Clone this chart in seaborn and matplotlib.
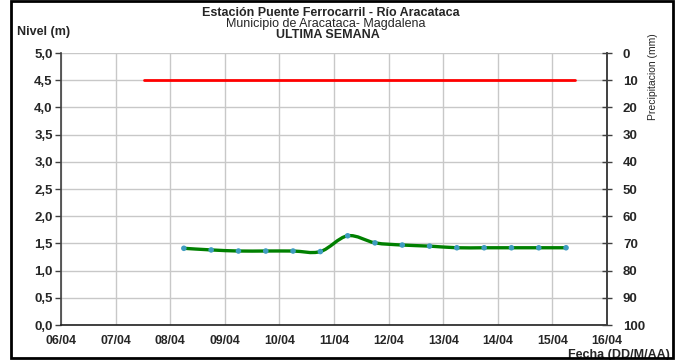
import numpy as np
import pandas as pd
import matplotlib as mpl
mpl.use("Agg")
import matplotlib.pyplot as plt
import matplotlib.dates as mdates
from matplotlib.path import Path
from matplotlib.patches import PathPatch, Rectangle
from matplotlib.ticker import FuncFormatter
import seaborn as sns

# nivel del rio, cada 12 horas
fechas = pd.date_range("2023-04-08 06:00", periods=15, freq="12h")
nivel = [1.41, 1.38, 1.36, 1.36, 1.36, 1.35, 1.64, 1.51, 1.47, 1.45,
         1.42, 1.42, 1.42, 1.42, 1.42]

# linea roja (nivel de referencia)
ref_fechas = pd.to_datetime(["2023-04-07 12:30", "2023-04-15 10:00"])
ref_nivel = [4.5, 4.5]

dias = pd.date_range("2023-04-06", "2023-04-16", freq="D")
nivel_ticks = np.arange(0, 5.01, 0.5)
precip_ticks = np.arange(0, 101, 10)


def smooth_path(x, y, t=1/6.):
    # curva suavizada tipo Excel (bezier tipo catmull-rom)
    pts = np.column_stack([x, y])
    verts = [pts[0]]
    codes = [Path.MOVETO]
    n = len(pts)
    for i in range(n - 1):
        p0 = pts[i - 1] if i > 0 else pts[i]
        p1 = pts[i]
        p2 = pts[i + 1]
        p3 = pts[i + 2] if i + 2 < n else pts[i + 1]
        verts += [p1 + (p2 - p0) * t, p2 - (p3 - p1) * t, p2]
        codes += [Path.CURVE4] * 3
    return Path(verts, codes)


sns.set_theme(style="white")
plt.rcParams["font.family"] = ["Liberation Sans", "DejaVu Sans"]
plt.rcParams["font.size"] = 9

fig = plt.figure(figsize=(6.84, 3.6), dpi=100)
ax = fig.add_axes([61 / 684, 1 - 325 / 360, 546 / 684, 272 / 360])

ax.set_xlim(mdates.date2num(dias[0]), mdates.date2num(dias[-1]))
ax.set_ylim(0, 5)
ax.set_xticks(mdates.date2num(dias))
ax.xaxis.set_major_formatter(mdates.DateFormatter("%d/%m"))
ax.set_yticks(nivel_ticks)
ax.yaxis.set_major_formatter(FuncFormatter(lambda v, p: f"{v:.1f}".replace(".", ",")))
ax.grid(True, color="#c8c8c8", lw=1)

xs = mdates.date2num(fechas)
ax.add_patch(PathPatch(smooth_path(xs, np.array(nivel)), fill=False,
                       edgecolor="#008000", lw=2.4, zorder=3))
sns.scatterplot(x=xs, y=nivel, ax=ax, color="#3f9cc0", s=16,
                edgecolor="none", zorder=4)
sns.lineplot(x=mdates.date2num(ref_fechas), y=ref_nivel, ax=ax,
             color="#ff0000", lw=2, zorder=3)

ax.spines["top"].set_visible(False)
ax.spines["left"].set_color("#404040")
ax.spines["bottom"].set_color("#202020")
ax.spines["right"].set_color("#404040")
for s in ["left", "bottom", "right"]:
    ax.spines[s].set_linewidth(1.2)

ax.tick_params(axis="y", left=True, direction="out", length=4, width=1,
               color="#404040", pad=2)
ax.tick_params(axis="x", bottom=False, pad=1)
for lab in ax.get_yticklabels():
    lab.set_fontweight("bold")
    lab.set_fontsize(9.5)
for lab in ax.get_xticklabels():
    lab.set_fontweight("bold")
    lab.set_fontsize(8.8)

ax2 = ax.twinx()
ax2.set_ylim(100, 0)
ax2.set_yticks(precip_ticks)
ax2.tick_params(axis="y", right=True, direction="inout", length=7, width=1,
                color="#404040", pad=8)
for lab in ax2.get_yticklabels():
    lab.set_fontweight("bold")
    lab.set_fontsize(9.5)
for s in ["top", "left", "bottom"]:
    ax2.spines[s].set_visible(False)
ax2.spines["right"].set_color("#404040")
ax2.spines["right"].set_linewidth(1.2)
ax2.grid(False)

fig.text(331 / 684, 1 - 12.5 / 360, "Estación Puente Ferrocarril - Río Aracataca",
         ha="center", va="center", fontsize=9, fontweight="bold")
fig.text(326 / 684, 1 - 24 / 360, "Municipio de Aracataca- Magdalena",
         ha="center", va="center", fontsize=9)
fig.text(328 / 684, 1 - 35.5 / 360, "ULTIMA SEMANA",
         ha="center", va="center", fontsize=9, fontweight="bold")
fig.text(17 / 684, 1 - 32 / 360, "Nivel (m)", ha="left", va="center",
         fontsize=9, fontweight="bold")
fig.text(653 / 684, 1 - 77 / 360, "Precipitacion (mm)", ha="center", va="center",
         rotation=90, fontsize=7.5,
         family=["Liberation Sans Narrow", "Liberation Sans", "DejaVu Sans"])
fig.text(670 / 684, 1 - 355 / 360, "Fecha (DD/M/AA)", ha="right", va="center",
         fontsize=9, fontweight="bold")

fig.patches.append(Rectangle((11 / 684, 2 / 360), 662 / 684, 357 / 360,
                             transform=fig.transFigure, fill=False,
                             edgecolor="black", lw=2, zorder=10))

fig.savefig("out.png", dpi=100)
